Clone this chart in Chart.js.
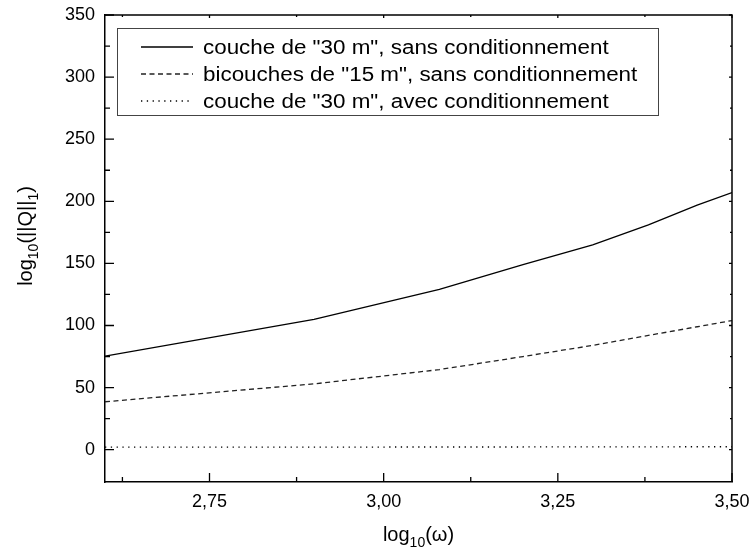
<!DOCTYPE html>
<html>
<head>
<meta charset="utf-8">
<script src="https://cdn.jsdelivr.net/npm/chart.js@4.4.1/dist/chart.umd.min.js"></script>
<style>
  body { margin: 0; background: #fff; }
  #wrap { width: 752px; height: 553px; }
</style>
</head>
<body>
<div id="wrap"><canvas id="chart"></canvas></div>
<script>
// données
const logOmega = [2.60, 2.90, 3.08, 3.20, 3.30, 3.38, 3.45, 3.50];
const couche30Sans = [75.4, 105, 129, 149, 165, 181, 197, 207];
const bicouches15Sans = [38.6, 53, 64.5, 75, 84, 92, 99, 104];
const couche30Avec = [2.0, 2.1, 2.2, 2.2, 2.3, 2.3, 2.4, 2.4];

const seriesLabels = [
  'couche de "30 m", sans conditionnement',
  'bicouches de "15 m", sans conditionnement',
  'couche de "30 m", avec conditionnement'
];

const xTicks = [2.75, 3.00, 3.25, 3.50];
const xMinorTicks = [2.625, 2.875, 3.125, 3.375];
const yTicks = [0, 50, 100, 150, 200, 250, 300, 350];
const yMinorTicks = [25, 75, 125, 175, 225, 275, 325];

const FONT = "'Liberation Sans', Arial, Helvetica, sans-serif";
Chart.defaults.font.family = FONT;
Chart.defaults.color = '#000';

function toPoints(ys) {
  return logOmega.map((x, i) => ({ x: x, y: ys[i] }));
}

// cadre, graduations vers l'intérieur, légende encadrée, titres d'axes
const decorPlugin = {
  id: 'decor',
  afterDraw(chart) {
    const ctx = chart.ctx;
    const a = chart.chartArea;
    const xs = chart.scales.x;
    const ys = chart.scales.y;

    ctx.save();
    ctx.strokeStyle = '#000';
    ctx.lineWidth = 1.5;
    ctx.beginPath();
    ctx.moveTo(a.left, a.top);
    ctx.lineTo(a.right, a.top);
    ctx.lineTo(a.right, a.bottom);
    ctx.stroke();

    ctx.lineWidth = 1.3;
    const tickX = (v, len, mirror) => {
      const px = xs.getPixelForValue(v);
      ctx.beginPath();
      ctx.moveTo(px, a.bottom);
      ctx.lineTo(px, a.bottom - len);
      ctx.moveTo(px, a.top);
      ctx.lineTo(px, a.top + mirror);
      ctx.stroke();
    };
    const tickY = (v, len, mirror) => {
      const py = ys.getPixelForValue(v);
      ctx.beginPath();
      ctx.moveTo(a.left, py);
      ctx.lineTo(a.left + len, py);
      ctx.moveTo(a.right, py);
      ctx.lineTo(a.right - mirror, py);
      ctx.stroke();
    };
    xTicks.forEach(v => tickX(v, 9, 3));
    xMinorTicks.forEach(v => tickX(v, 5, 2));
    yTicks.forEach(v => tickY(v, 9, 3));
    yMinorTicks.forEach(v => tickY(v, 5, 2));

    // légende
    ctx.lineWidth = 1;
    ctx.strokeStyle = '#444';
    ctx.strokeRect(117.5, 28.5, 541, 87);
    const rows = [47, 74, 101];
    chart.data.datasets.forEach((ds, i) => {
      ctx.strokeStyle = ds.borderColor;
      ctx.lineWidth = ds.borderWidth;
      ctx.setLineDash(ds.borderDash || []);
      ctx.beginPath();
      ctx.moveTo(141, rows[i]);
      ctx.lineTo(193, rows[i]);
      ctx.stroke();
      ctx.setLineDash([]);
      ctx.save();
      ctx.translate(203, rows[i]);
      ctx.scale(1.12, 1);
      ctx.fillStyle = '#000';
      ctx.font = '20px ' + FONT;
      ctx.textBaseline = 'middle';
      ctx.fillText(ds.label, 0, 1);
      ctx.restore();
    });

    // titres avec indices
    const drawSub = (parts, x, y) => {
      let total = 0;
      parts.forEach(p => { ctx.font = p[1] + 'px ' + FONT; total += ctx.measureText(p[0]).width; });
      let cx = x - total / 2;
      parts.forEach(p => {
        ctx.font = p[1] + 'px ' + FONT;
        ctx.fillText(p[0], cx, y + p[2]);
        cx += ctx.measureText(p[0]).width;
      });
    };
    ctx.fillStyle = '#000';
    ctx.textBaseline = 'alphabetic';
    ctx.textAlign = 'left';
    drawSub([['log', 20, 0], ['10', 14, 6], ['(\u03c9)', 20, 0]], (a.left + a.right) / 2, 541);

    ctx.save();
    ctx.translate(32, 236);
    ctx.rotate(-Math.PI / 2);
    drawSub([['log', 20, 0], ['10', 14, 6], ['(||Q||', 20, 0], ['1', 14, 6], [')', 20, 0]], 0, 0);
    ctx.restore();

    ctx.restore();
  }
};

new Chart(document.getElementById('chart'), {
  type: 'line',
  data: {
    datasets: [
      {
        label: seriesLabels[0],
        data: toPoints(couche30Sans),
        borderColor: '#000',
        borderWidth: 1.3
      },
      {
        label: seriesLabels[1],
        data: toPoints(bicouches15Sans),
        borderColor: '#222',
        borderWidth: 1.3,
        borderDash: [5, 3.5]
      },
      {
        label: seriesLabels[2],
        data: toPoints(couche30Avec),
        borderColor: '#000',
        borderWidth: 1.3,
        borderDash: [1.3, 4.5]
      }
    ]
  },
  options: {
    responsive: true,
    maintainAspectRatio: false,
    animation: false,
    layout: { padding: { left: 0, top: 15, right: 20, bottom: 0 } },
    elements: { point: { radius: 0 }, line: { tension: 0 } },
    plugins: { legend: { display: false }, tooltip: { enabled: false } },
    scales: {
      x: {
        type: 'linear',
        min: 2.6,
        max: 3.5,
        grid: { display: false, drawTicks: false },
        border: { display: true, color: '#000', width: 1.5 },
        afterBuildTicks: s => { s.ticks = xTicks.map(v => ({ value: v })); },
        afterFit: s => { s.height = 71; s.paddingLeft = 0; s.paddingRight = 0; },
        ticks: {
          padding: 9,
          font: { size: 18 },
          maxRotation: 0,
          callback: v => v.toFixed(2).replace('.', ',')
        }
      },
      y: {
        type: 'linear',
        min: -26,
        max: 350,
        grid: { display: false, drawTicks: false },
        border: { display: true, color: '#000', width: 1.5 },
        afterBuildTicks: s => { s.ticks = yTicks.map(v => ({ value: v })); },
        afterFit: s => { s.width = 105; s.paddingTop = 0; s.paddingBottom = 0; },
        ticks: {
          padding: 10,
          font: { size: 18 },
          callback: v => String(v)
        }
      }
    }
  },
  plugins: [decorPlugin]
});
</script>
</body>
</html>
